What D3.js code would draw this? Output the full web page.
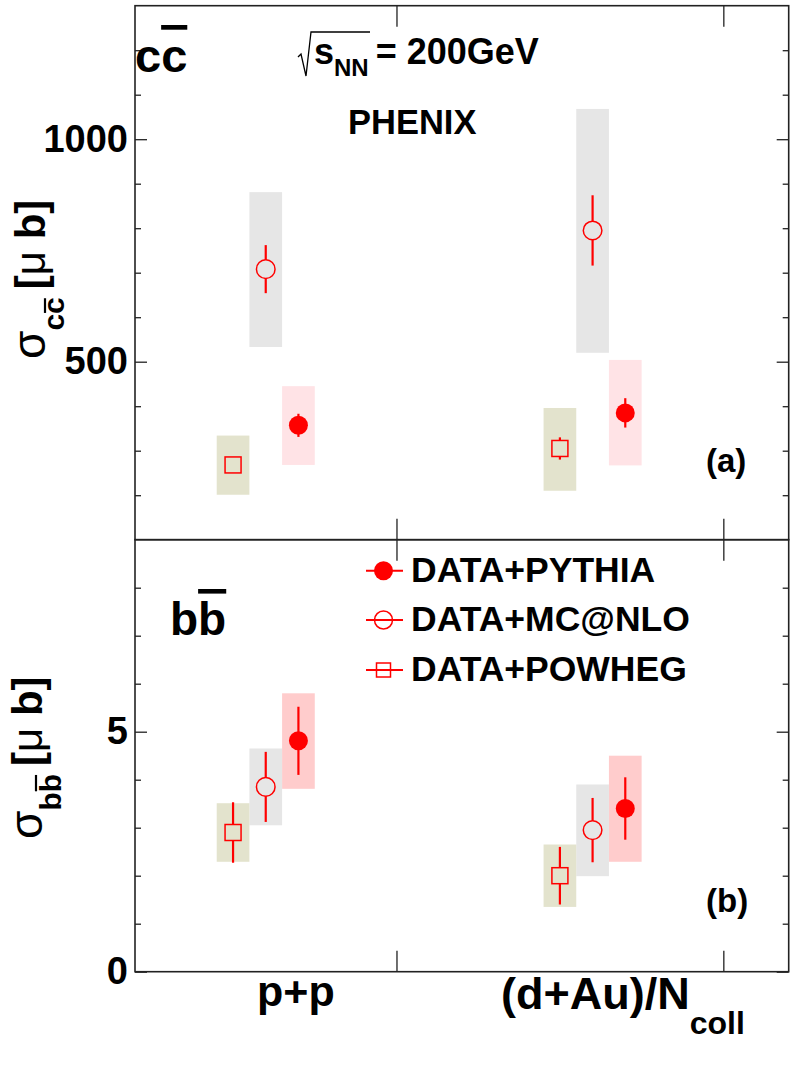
<!DOCTYPE html>
<html>
<head>
<meta charset="utf-8">
<script src="https://cdn.jsdelivr.net/npm/d3@7"></script>
<style>
  body { margin: 0; background: #fff; }
  text { font-family: "Liberation Sans", Arial, sans-serif; font-weight: bold; fill: #000; }
</style>
</head>
<body>
<div id="chart"></div>
<script>
// categories on the x axis and where they sit
const categories = ["p+p", "(d+Au)/N"];
const catPos = [0.6, 1.6];
const xTicks = [1, 2];

// series: PYTHIA, MC@NLO, POWHEG
const models = ["DATA+PYTHIA", "DATA+MC@NLO", "DATA+POWHEG"];
const modelShift = [0.1, 0, -0.1];

// sigma c cbar [micro barn], per model, per category
const ccValue = [[357, 385], [708, 795], [268, 305]];
const ccStat = [[26, 33], [54, 79], [17, 25]];
const ccSysLow = [[268, 267], [533, 520], [201, 210]];
const ccSysHigh = [[445, 504], [881, 1068], [334, 396]];

// sigma b bbar [micro barn]
const bbValue = [[4.81, 3.40], [3.85, 2.95], [2.90, 2.00]];
const bbStat = [[0.71, 0.65], [0.73, 0.67], [0.63, 0.60]];
const bbSysLow = [[3.81, 2.29], [3.05, 1.99], [2.29, 1.35]];
const bbSysHigh = [[5.80, 4.50], [4.65, 3.90], [3.51, 2.65]];

const ccMajor = [500, 1000];
const ccMinor = [200, 300, 400, 600, 700, 800, 900, 1100, 1200];
const bbMajor = [0, 5];
const bbMinor = [1, 2, 3, 4, 6, 7, 8];

const width = 797,
  height = 1080,
  left = 135,
  right = 788.7,
  top1 = 5.7,
  mid = 539.7,
  bottom = 971.7;

const red = "#ff0000";
const boxColors = ["#ffe3e6", "#e6e6e6", "#e3e3cd"];
const boxColorsB = ["#ffcccc", "#e6e6e6", "#e3e3cd"];

const svg = d3
  .select("#chart")
  .append("svg")
  .attr("width", width)
  .attr("height", height);

const xScale = d3.scaleLinear().domain([0.2, 2.2]).range([left, right]);
const yTop = d3.scaleLinear().domain([100, 1300]).range([mid, top1]);
const yBot = d3.scaleLinear().domain([0, 9]).range([bottom, mid]);

function drawPanel(y, vals, stat, lo, hi, colors, major, minor, y0, y1) {
  const g = svg.append("g");
  const bw = xScale(0.1) - xScale(0);

  // systematic boxes
  models.forEach((m, i) => {
    catPos.forEach((c, j) => {
      g.append("rect")
        .attr("x", xScale(c + modelShift[i]) - bw / 2)
        .attr("y", y(hi[i][j]))
        .attr("width", bw)
        .attr("height", y(lo[i][j]) - y(hi[i][j]))
        .attr("fill", colors[i]);
    });
  });

  // stat error bars + markers
  models.forEach((m, i) => {
    catPos.forEach((c, j) => {
      const cx = xScale(c + modelShift[i]);
      const cy = y(vals[i][j]);
      const gap = i == 0 ? 0 : i == 1 ? 9.3 : 8;
      const yUp = y(vals[i][j] + stat[i][j]);
      const yDn = y(vals[i][j] - stat[i][j]);
      if (cy - gap > yUp)
        g.append("line").attr("x1", cx).attr("x2", cx)
          .attr("y1", yUp).attr("y2", cy - gap)
          .attr("stroke", red).attr("stroke-width", 2.2);
      if (yDn > cy + gap)
        g.append("line").attr("x1", cx).attr("x2", cx)
          .attr("y1", cy + gap).attr("y2", yDn)
          .attr("stroke", red).attr("stroke-width", 2.2);
      drawMarker(g, i, cx, cy);
    });
  });

  // axes, ticks point inward
  const yl = svg.append("g").attr("transform", "translate(" + left + ",0)");
  yl.call(d3.axisLeft(y).tickValues(major).tickSize(-12).tickSizeOuter(0)
    .tickPadding(7).tickFormat(d3.format("d")));
  yl.append("g").call(d3.axisLeft(y).tickValues(minor).tickSize(-6).tickSizeOuter(0).tickFormat(""));
  const yr = svg.append("g").attr("transform", "translate(" + right + ",0)");
  yr.call(d3.axisRight(y).tickValues(major).tickSize(-12).tickSizeOuter(0).tickFormat(""));
  yr.append("g").call(d3.axisRight(y).tickValues(minor).tickSize(-6).tickSizeOuter(0).tickFormat(""));
  svg.append("g").attr("transform", "translate(0," + y0 + ")")
    .call(d3.axisBottom(xScale).tickValues(xTicks).tickSize(-21).tickSizeOuter(0).tickFormat(""));
  svg.append("g").attr("transform", "translate(0," + y1 + ")")
    .call(d3.axisTop(xScale).tickValues(xTicks).tickSize(-21).tickSizeOuter(0).tickFormat(""));

  svg.selectAll(".domain").remove();
  svg.selectAll(".tick line").attr("stroke", "#222").attr("stroke-width", 1.3);
  yl.selectAll(".tick text").style("font-size", "38px").attr("fill", "#000");

  svg.append("rect")
    .attr("x", left).attr("y", y1)
    .attr("width", right - left).attr("height", y0 - y1)
    .attr("fill", "none").attr("stroke", "#222").attr("stroke-width", 1.6);
}

function drawMarker(g, i, cx, cy) {
  if (i == 0) {
    g.append("circle").attr("cx", cx).attr("cy", cy).attr("r", 9.5).attr("fill", red);
  } else if (i == 1) {
    g.append("circle").attr("cx", cx).attr("cy", cy).attr("r", 9.3)
      .attr("fill", "none").attr("stroke", red).attr("stroke-width", 1.5);
  } else {
    g.append("rect").attr("x", cx - 8).attr("y", cy - 8).attr("width", 16).attr("height", 16)
      .attr("fill", "none").attr("stroke", red).attr("stroke-width", 1.5);
  }
}

drawPanel(yTop, ccValue, ccStat, ccSysLow, ccSysHigh, boxColors, ccMajor, ccMinor, mid, top1);
drawPanel(yBot, bbValue, bbStat, bbSysLow, bbSysHigh, boxColorsB, bbMajor, bbMinor, bottom, mid);

// panel labels
const cc = svg.append("text").attr("x", left).attr("y", 72).style("font-size", "47px");
cc.append("tspan").text("c");
cc.append("tspan").text("c").style("text-decoration", "overline");

const bb = svg.append("text").attr("x", 170).attr("y", 635).style("font-size", "46px");
bb.append("tspan").text("b");
bb.append("tspan").text("b").style("text-decoration", "overline");

svg.append("text").attr("x", 706).attr("y", 472).style("font-size", "33px").text("(a)");
svg.append("text").attr("x", 706).attr("y", 912).style("font-size", "33px").text("(b)");

// energy and experiment: radical sign drawn as a thin stroke
svg.append("path")
  .attr("d", "M298,57 L301,54 L306,76 L311,32 L370,32")
  .attr("fill", "none").attr("stroke", "#000").attr("stroke-width", 1.3);
const en = svg.append("text").attr("x", 314).attr("y", 63.5).style("font-size", "36px");
en.append("tspan").text("s");
en.append("tspan").attr("dy", 12).style("font-size", "24px").text("NN");
en.append("tspan").attr("dy", -12).attr("dx", 7).text("= 200GeV");

svg.append("text").attr("x", 348).attr("y", 134).style("font-size", "34.5px").text("PHENIX");

// y titles (rotated); bar over the second subscript letter drawn by hand
function yTitle(x, y, sub, barLift) {
  const g = svg.append("g")
    .attr("transform", "translate(" + x + "," + y + ") rotate(-90)");
  const t = g.append("text").style("font-size", "42px");
  t.append("tspan").style("font-weight", "normal").style("font-size", "46px").text("\u03C3");
  t.append("tspan").attr("dy", 19).style("font-size", "30px").text(sub + sub);
  t.append("tspan").attr("dy", -19).attr("dx", 8).text("[");
  t.append("tspan").style("font-weight", "normal").text("\u03BC");
  t.append("tspan").text(" b]");
  const box = t.node().getExtentOfChar(2);
  g.append("line")
    .attr("x1", box.x + 1).attr("x2", box.x + box.width - 1)
    .attr("y1", 19 - barLift).attr("y2", 19 - barLift)
    .attr("stroke", "#000").attr("stroke-width", 2.2);
}
yTitle(45, 359, "c", 19);
yTitle(42, 839, "b", 25);

// x category labels
svg.append("text").attr("x", 257).attr("y", 1006).style("font-size", "43px").text(categories[0]);
const dau = svg.append("text").attr("x", 501).attr("y", 1009).style("font-size", "45px");
dau.append("tspan").text(categories[1]);
dau.append("tspan").attr("dy", 25).style("font-size", "32px").text("coll");

// legend
const legY = [570.7, 620, 670];
models.forEach((m, i) => {
  const lg = svg.append("g");
  if (i == 0) {
    lg.append("circle").attr("cx", 383.5).attr("cy", legY[i]).attr("r", 9.5).attr("fill", red);
  } else if (i == 1) {
    lg.append("circle").attr("cx", 383.5).attr("cy", legY[i]).attr("r", 9)
      .attr("fill", "#fff").attr("stroke", red).attr("stroke-width", 1.5);
  } else {
    lg.append("rect").attr("x", 376.5).attr("y", legY[i] - 7).attr("width", 14).attr("height", 14)
      .attr("fill", "#fff").attr("stroke", red).attr("stroke-width", 1.5);
  }
  lg.append("line").attr("x1", 366).attr("x2", 403)
    .attr("y1", legY[i]).attr("y2", legY[i])
    .attr("stroke", red).attr("stroke-width", 2);
  lg.append("text").attr("x", 411).attr("y", legY[i] + 11)
    .style("font-size", "35.5px").text(m);
});
</script>
</body>
</html>
